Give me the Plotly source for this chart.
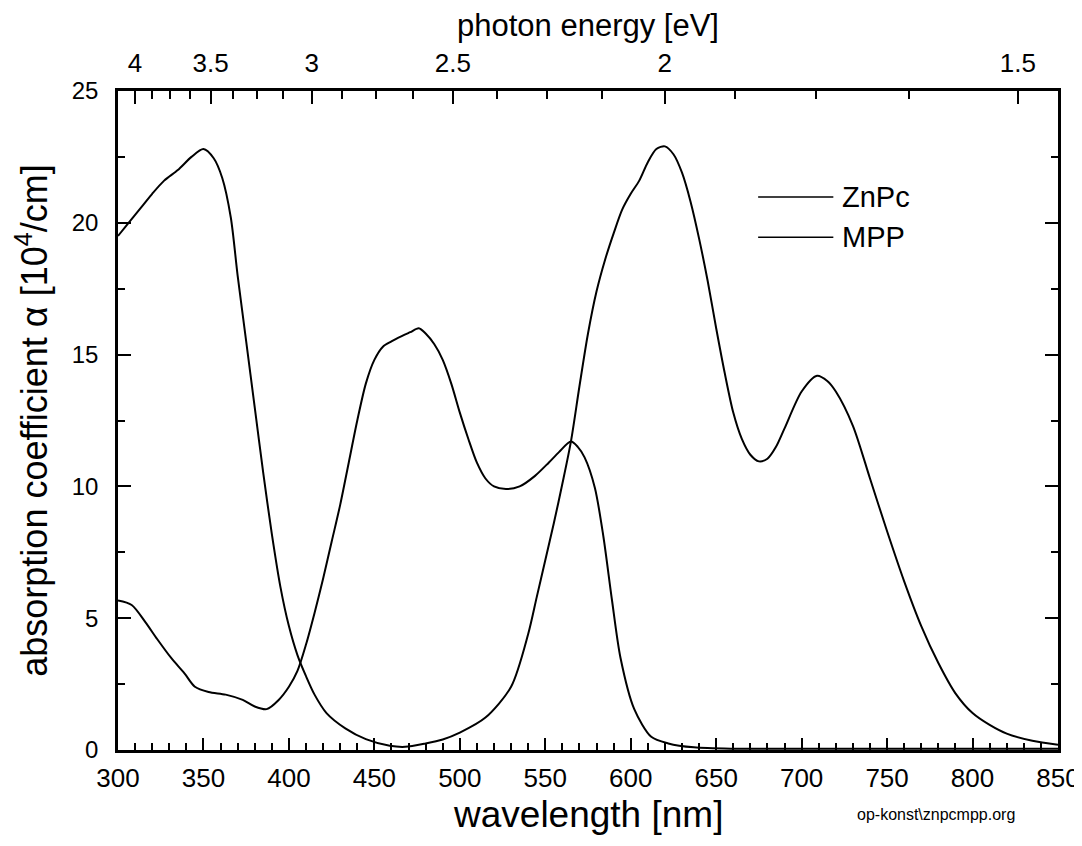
import plotly.graph_objects as go

# ---- data ----
znpc_nm = [300, 305, 310, 315, 320, 327, 335, 343, 350, 356, 361, 366, 370, 375, 380, 385, 390,
           395, 400, 405, 410, 415, 422, 433, 445, 459, 468, 480, 490, 500, 515, 530, 540, 545,
           550, 555, 560, 565, 570, 575, 580, 585, 590, 595, 600, 605, 610, 615, 620, 625, 630,
           635, 640, 645, 650, 655, 660, 665, 670, 675, 680, 685, 690, 700, 709, 715, 720, 730,
           740, 750, 760, 770, 780, 790, 800, 810, 820, 835, 850]
znpc_val = [19.5, 19.9, 20.3, 20.7, 21.1, 21.6, 22.0, 22.5, 22.8, 22.45, 21.7, 20.2, 18.0, 15.5,
            13.0, 10.5, 8.2, 6.2, 4.7, 3.6, 2.8, 2.1, 1.4, 0.82, 0.41, 0.16, 0.12, 0.25, 0.4,
            0.66, 1.23, 2.4, 4.4, 5.8, 7.2, 8.6, 10.1, 11.7, 13.8, 15.8, 17.4, 18.6, 19.6, 20.5,
            21.1, 21.6, 22.3, 22.8, 22.9, 22.6, 21.9, 20.8, 19.4, 17.8, 16.0, 14.3, 12.8, 11.8,
            11.2, 10.95, 11.05, 11.5, 12.2, 13.6, 14.2, 14.0, 13.6, 12.3, 10.3, 8.3, 6.4, 4.7,
            3.3, 2.15, 1.4, 0.95, 0.62, 0.35, 0.2]

mpp_nm = [300, 308, 316, 323, 331, 339, 345, 353, 363, 373, 380, 387, 394, 400, 405, 410, 415,
          420, 425, 430, 435, 440, 445, 450, 455, 460, 466, 471, 476, 480, 485, 490, 495, 500,
          505, 510, 515, 520, 527, 535, 544, 552, 558, 565, 569, 573, 579, 584, 589, 594, 602,
          612, 622, 637, 660, 700, 750, 800, 850]
mpp_val = [5.67, 5.5, 4.85, 4.2, 3.5, 2.9, 2.4, 2.2, 2.1, 1.9, 1.65, 1.55, 1.9, 2.4, 3.0, 4.0,
           5.2, 6.5, 7.9, 9.3, 10.9, 12.5, 13.9, 14.8, 15.3, 15.5, 15.7, 15.85, 16.0, 15.8,
           15.4, 14.8, 13.9, 12.8, 11.8, 10.9, 10.3, 10.0, 9.9, 10.0, 10.4, 10.9, 11.3, 11.7,
           11.5, 11.1, 9.95, 8.1, 5.7, 3.5, 1.56, 0.5, 0.25, 0.1, 0.05, 0.05, 0.05, 0.05, 0.05]

energy_major = [4, 3.5, 3, 2.5, 2, 1.5]
energy_labels = ["4", "3.5", "3", "2.5", "2", "1.5"]
energy_minor = [4.125, 3.875, 3.75, 3.625, 3.375, 3.25, 3.125, 2.875, 2.75, 2.625,
                2.375, 2.25, 2.125, 1.875, 1.75, 1.625]
HC = 1239.84  # eV*nm

FONT = "Liberation Sans, Arial, sans-serif"
BLACK = "#000000"

fig = go.Figure()
fig.add_trace(go.Scatter(x=znpc_nm, y=znpc_val, mode="lines", name="ZnPc",
                         line=dict(color=BLACK, width=2, shape="spline", smoothing=0.8)))
fig.add_trace(go.Scatter(x=mpp_nm, y=mpp_val, mode="lines", name="MPP",
                         line=dict(color=BLACK, width=2, shape="spline", smoothing=0.8)))
# invisible trace to activate top axis
fig.add_trace(go.Scatter(x=[300, 850], y=[None, None], xaxis="x2", showlegend=False,
                         hoverinfo="skip"))

# the page body adds an 8px offset; margins compensate for it
fig.update_layout(
    width=1082, height=846,
    margin=dict(l=110, r=32, t=83, b=104),
    paper_bgcolor="white", plot_bgcolor="white",
    showlegend=False,
    font=dict(family=FONT, color=BLACK, size=22),
    xaxis=dict(
        range=[300, 850], tickmode="linear", tick0=300, dtick=50,
        ticks="inside", ticklen=12, tickwidth=2, tickcolor=BLACK,
        minor=dict(dtick=10, tick0=300, ticks="inside", ticklen=7, tickwidth=1.5,
                   tickcolor=BLACK),
        showline=True, linecolor=BLACK, linewidth=2.5, mirror=False,
        showgrid=False, zeroline=False, automargin=False,
        tickfont=dict(size=26, family=FONT), ticklabelstandoff=3,
    ),
    xaxis2=dict(
        overlaying="x", side="top", range=[300, 850],
        tickmode="array", tickvals=[HC / e for e in energy_major], ticktext=energy_labels,
        ticks="inside", ticklen=13, tickwidth=2, tickcolor=BLACK,
        minor=dict(tickmode="array", tickvals=[HC / e for e in energy_minor],
                   ticks="inside", ticklen=8, tickwidth=1.5, tickcolor=BLACK),
        showline=True, linecolor=BLACK, linewidth=2.5,
        showgrid=False, zeroline=False, automargin=False,
        tickfont=dict(size=26, family=FONT), ticklabelstandoff=6,
    ),
    yaxis=dict(
        range=[0, 25], tickmode="linear", tick0=0, dtick=5,
        ticks="inside", ticklen=13, tickwidth=2, tickcolor=BLACK,
        minor=dict(dtick=2.5, tick0=0, ticks="inside", ticklen=7, tickwidth=1.5,
                   tickcolor=BLACK),
        showline=True, linecolor=BLACK, linewidth=2.5, mirror="ticks",
        showgrid=False, zeroline=False, automargin=False,
        tickfont=dict(size=24, family=FONT), ticklabelstandoff=12,
        title=dict(text="absorption coefficient \u03b1 [10<sup>4</sup>/cm]",
                   font=dict(size=36, family=FONT), standoff=14),
    ),
)

# axis titles for the top (energy) and bottom (wavelength) scales
fig.add_annotation(text="photon energy [eV]", xref="paper", yref="paper", x=0.5, y=1.1,
                   xanchor="center", yanchor="middle", showarrow=False,
                   font=dict(size=31, family=FONT, color=BLACK))
fig.add_annotation(text="wavelength [nm]", xref="paper", yref="paper", x=0.5, y=-0.0986,
                   xanchor="center", yanchor="middle", showarrow=False,
                   font=dict(size=37, family=FONT, color=BLACK))

# legend drawn manually (long line samples as in the original)
legend_items = [("ZnPc", 0.839), ("MPP", 0.778)]
for name, yy in legend_items:
    fig.add_shape(type="line", xref="paper", yref="paper", x0=0.681, x1=0.761, y0=yy, y1=yy,
                  line=dict(color=BLACK, width=1.5))
    fig.add_annotation(text=name, xref="paper", yref="paper", x=0.768, y=yy,
                       xanchor="left", yanchor="middle", showarrow=False,
                       font=dict(size=29, family=FONT, color=BLACK))

fig.add_annotation(text="op-konst\\znpcmpp.org", xref="paper", yref="paper",
                   x=0.87, y=-0.0986, xanchor="center", yanchor="middle", showarrow=False,
                   font=dict(size=16, family=FONT, color=BLACK))

fig.write_html("out.html")
